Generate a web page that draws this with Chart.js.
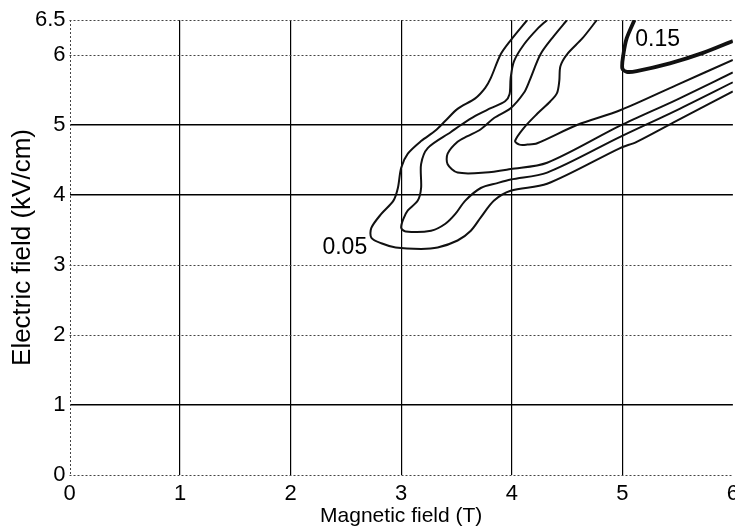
<!DOCTYPE html>
<html>
<head>
<meta charset="utf-8">
<title>Contours - Electric vs Magnetic field</title>
<script src="https://cdn.jsdelivr.net/npm/chart.js@4.4.0/dist/chart.umd.min.js"></script>
<style>
  html, body { margin: 0; padding: 0; background: #fff; overflow: hidden; }
  .wrap { width: 745px; height: 531px; position: relative; }
</style>
</head>
<body>
<div class="wrap"><canvas id="myChart"></canvas></div>
<script>
// tick labels
const xTicks = [0, 1, 2, 3, 4, 5, 6];
const yTicks = [0, 1, 2, 3, 4, 5, 6, 6.5];

// which grid lines are solid (the rest are dotted)
const solidX = [1, 2, 3, 4, 5];
const solidY = [1, 4, 5];
const dottedX = [0];
const dottedY = [0, 2, 3, 6, 6.5];

// contour 0.05 (outer)
const c1X = [4.14, 3.99, 3.90, 3.81, 3.76, 3.67, 3.51, 3.40, 3.31, 3.18, 3.06, 3.00, 2.97, 2.93, 2.82, 2.73, 2.73, 2.82, 2.95, 3.18, 3.33, 3.51, 3.63, 3.72, 3.84, 3.99, 4.32, 4.98, 5.13, 5.49, 6.0];
const c1Y = [6.5, 6.21, 6.01, 5.67, 5.53, 5.38, 5.23, 5.06, 4.92, 4.77, 4.59, 4.39, 4.10, 3.92, 3.73, 3.53, 3.39, 3.31, 3.25, 3.23, 3.25, 3.35, 3.49, 3.68, 3.92, 4.06, 4.16, 4.67, 4.76, 5.06, 5.48];

// contour 2
const c2X = [4.32, 4.23, 4.11, 4.02, 3.99, 3.98, 3.94, 3.81, 3.67, 3.54, 3.45, 3.24, 3.18, 3.18, 3.15, 3.06, 3.02, 3.00, 3.04, 3.27, 3.40, 3.49, 3.58, 3.72, 3.87, 3.99, 4.32, 4.98, 5.49, 6.0];
const c2Y = [6.5, 6.37, 6.15, 5.91, 5.67, 5.44, 5.34, 5.24, 5.13, 5.0, 4.9, 4.67, 4.44, 4.10, 3.92, 3.78, 3.66, 3.53, 3.48, 3.49, 3.59, 3.73, 3.92, 4.10, 4.17, 4.22, 4.32, 4.83, 5.21, 5.61];

// contour 3
const c3X = [4.50, 4.38, 4.26, 4.16, 4.11, 3.99, 3.84, 3.72, 3.60, 3.51, 3.42, 3.42, 3.51, 3.76, 3.99, 4.32, 4.98, 5.49, 6.0];
const c3Y = [6.5, 6.27, 6.01, 5.63, 5.46, 5.24, 5.10, 4.94, 4.84, 4.76, 4.59, 4.44, 4.32, 4.32, 4.37, 4.46, 4.99, 5.36, 5.75];

// contour 4 (inner thin)
const c4X = [4.77, 4.64, 4.50, 4.44, 4.43, 4.41, 4.35, 4.23, 4.11, 4.03, 4.07, 4.14, 4.23, 4.59, 4.98, 5.49, 6.0];
const c4Y = [6.5, 6.24, 6.01, 5.84, 5.63, 5.46, 5.34, 5.16, 4.96, 4.77, 4.72, 4.72, 4.74, 5.0, 5.21, 5.57, 5.93];

// contour 0.15 (thick)
const c5X = [5.11, 5.04, 5.01, 5.00, 5.04, 5.13, 5.43, 5.73, 6.0];
const c5Y = [6.5, 6.24, 6.01, 5.81, 5.76, 5.77, 5.88, 6.03, 6.2];

// level labels
const labelText = ['0.05', '0.15'];
const labelX = [2.49, 5.32];
const labelY = [3.25, 6.22];

const FONT = "'Liberation Sans', Arial, Helvetica, sans-serif";

function toPoints(xs, ys) {
  return xs.map((x, i) => ({ x: x, y: ys[i] }));
}

function contour(xs, ys, width) {
  return {
    data: toPoints(xs, ys),
    showLine: true,
    borderColor: '#111',
    borderWidth: width,
    pointRadius: 0,
    tension: 0.3,
    fill: false
  };
}

// dotted grid lines + level labels, placed through the chart scales
const extras = {
  id: 'extras',
  beforeDatasetsDraw(chart) {
    const { ctx, chartArea: a, scales } = chart;
    ctx.save();
    ctx.strokeStyle = '#444';
    ctx.lineWidth = 1;
    ctx.setLineDash([2, 2]);
    dottedY.forEach(v => {
      const y = Math.round(scales.y.getPixelForValue(v)) + 0.5;
      ctx.beginPath(); ctx.moveTo(a.left, y); ctx.lineTo(a.right, y); ctx.stroke();
    });
    dottedX.forEach(v => {
      const x = Math.round(scales.x.getPixelForValue(v)) + 0.5;
      ctx.beginPath(); ctx.moveTo(x, a.top); ctx.lineTo(x, a.bottom); ctx.stroke();
    });
    ctx.restore();
  },
  afterDatasetsDraw(chart) {
    const { ctx, scales } = chart;
    ctx.save();
    ctx.fillStyle = '#000';
    ctx.font = '23px ' + FONT;
    ctx.textAlign = 'center';
    ctx.textBaseline = 'middle';
    labelText.forEach((t, i) => {
      ctx.fillText(t, scales.x.getPixelForValue(labelX[i]), scales.y.getPixelForValue(labelY[i]));
    });
    ctx.restore();
  }
};

const ctx = document.getElementById('myChart').getContext('2d');

new Chart(ctx, {
  type: 'scatter',
  data: {
    datasets: [
      contour(c1X, c1Y, 2),
      contour(c2X, c2Y, 2),
      contour(c3X, c3Y, 2),
      contour(c4X, c4Y, 2),
      contour(c5X, c5Y, 3.8)
    ]
  },
  options: {
    responsive: true,
    maintainAspectRatio: false,
    animation: false,
    layout: { padding: { top: 20, right: 8, bottom: 0, left: 0 } },
    plugins: { legend: { display: false }, tooltip: { enabled: false } },
    scales: {
      x: {
        type: 'linear',
        min: 0,
        max: 6,
        afterBuildTicks: s => { s.ticks = xTicks.map(v => ({ value: v })); },
        afterFit: s => { s.height = 56; },
        ticks: { color: '#000', padding: 6, font: { family: FONT, size: 22 } },
        grid: {
          drawTicks: false,
          lineWidth: 1.2,
          color: c => solidX.includes(c.tick && c.tick.value) ? '#000' : 'transparent'
        },
        border: { display: false },
        title: {
          display: true,
          text: 'Magnetic field (T)',
          color: '#000',
          font: { family: FONT, size: 21 },
          padding: { top: 0, bottom: 2 }
        }
      },
      y: {
        type: 'linear',
        min: 0,
        max: 6.5,
        afterBuildTicks: s => { s.ticks = yTicks.map(v => ({ value: v })); },
        afterFit: s => { s.width = 69.5; },
        ticks: { color: '#000', padding: 4, font: { family: FONT, size: 22 } },
        grid: {
          drawTicks: false,
          lineWidth: 1.6,
          color: c => solidY.includes(c.tick && c.tick.value) ? '#000' : 'transparent'
        },
        border: { display: false },
        title: {
          display: true,
          text: 'Electric field (kV/cm)',
          color: '#000',
          font: { family: FONT, size: 26 },
          padding: { top: 7, bottom: 0 }
        }
      }
    }
  },
  plugins: [extras]
});
</script>
</body>
</html>
